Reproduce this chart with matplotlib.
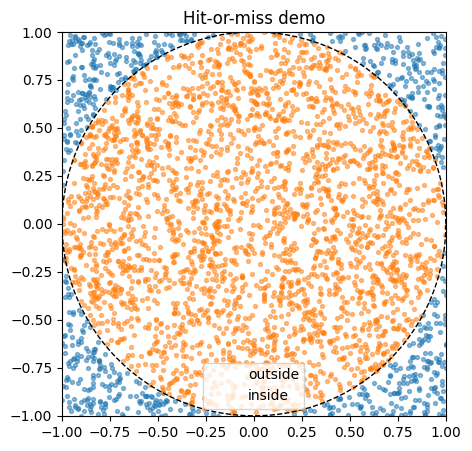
import matplotlib
matplotlib.use("Agg")
import matplotlib.pyplot as plt
import numpy as np

# The reference is a Monte Carlo demo: thousands of uniformly scattered
# samples whose individual positions cannot be read off the picture.
# Sample count and inside/outside rule are taken from the chart; positions
# are regenerated with a fixed seed.
n_points = 3500
seed = 0
labels = ["outside", "inside"]
colors = ["tab:blue", "tab:orange"]
radius = 1.0
ticks = [-1.0, -0.75, -0.5, -0.25, 0.0, 0.25, 0.5, 0.75, 1.0]

rng = np.random.default_rng(seed)
xy = rng.uniform(-1, 1, size=(n_points, 2))
inside = (xy ** 2).sum(axis=1) <= radius ** 2

fig, ax = plt.subplots(figsize=(4.72, 4.51), dpi=100)
fig.subplots_adjust(left=0.131, right=0.945, bottom=0.078, top=0.929)

ax.scatter(xy[~inside, 0], xy[~inside, 1], s=8, alpha=0.5,
           color=colors[0], label=labels[0])
ax.scatter(xy[inside, 0], xy[inside, 1], s=8, alpha=0.5,
           color=colors[1], label=labels[1])

t = np.linspace(0, 2 * np.pi, 400)
ax.plot(radius * np.cos(t), radius * np.sin(t), "k--", lw=1)

ax.set_xlim(-1, 1)
ax.set_ylim(-1, 1)
ax.set_xticks(ticks)
ax.set_yticks(ticks)
ax.set_aspect("equal")
ax.set_title("Hit-or-miss demo")

leg = ax.legend(loc="lower center")
for h in leg.legend_handles:
    h.set_sizes([0])

fig.savefig("out.png", dpi=100)
